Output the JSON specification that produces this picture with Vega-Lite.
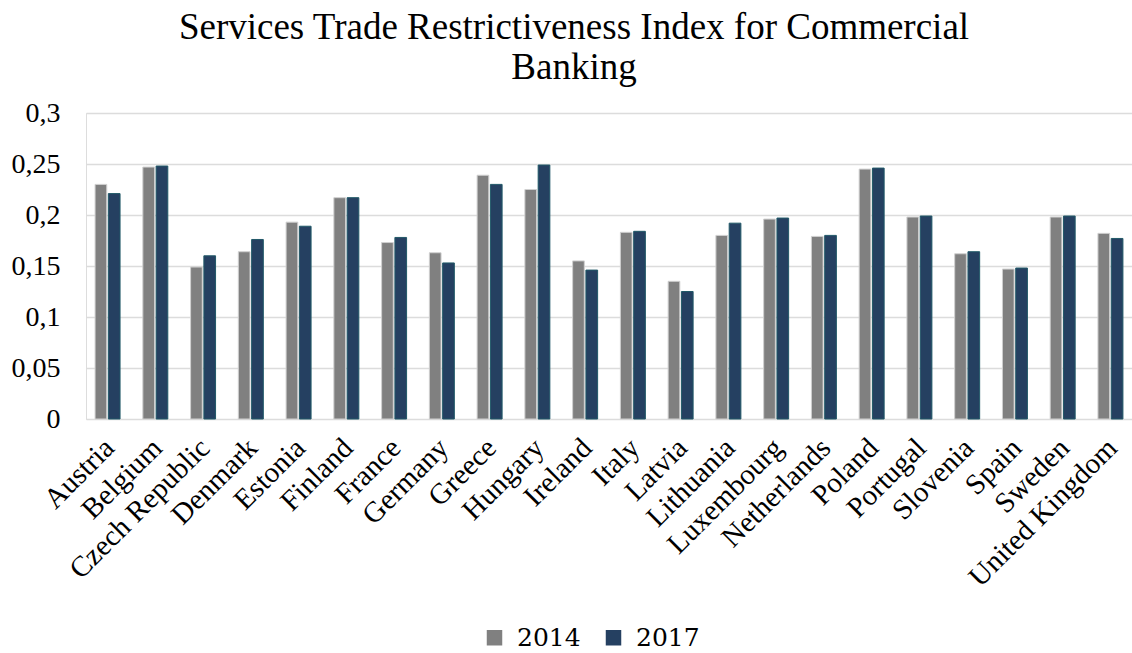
{
  "$schema": "https://vega.github.io/schema/vega-lite/v6.json",
  "autosize": {"type": "none"},
  "width": 1046,
  "height": 306,
  "padding": {"left": 86, "top": 113, "right": 0, "bottom": 234},
  "background": "white",
  "title": {
    "text": ["Services Trade Restrictiveness Index for Commercial", "Banking"],
    "font": "Liberation Serif",
    "fontSize": 37,
    "fontWeight": "normal",
    "color": "#000000",
    "anchor": "middle",
    "lineHeight": 40,
    "offset": 12,
    "dx": -35
  },
  "data": {
    "values": [
      {"country": "Austria", "year": "2014", "value": 0.230},
      {"country": "Austria", "year": "2017", "value": 0.221},
      {"country": "Belgium", "year": "2014", "value": 0.247},
      {"country": "Belgium", "year": "2017", "value": 0.248},
      {"country": "Czech Republic", "year": "2014", "value": 0.149},
      {"country": "Czech Republic", "year": "2017", "value": 0.160},
      {"country": "Denmark", "year": "2014", "value": 0.164},
      {"country": "Denmark", "year": "2017", "value": 0.176},
      {"country": "Estonia", "year": "2014", "value": 0.193},
      {"country": "Estonia", "year": "2017", "value": 0.189},
      {"country": "Finland", "year": "2014", "value": 0.217},
      {"country": "Finland", "year": "2017", "value": 0.217},
      {"country": "France", "year": "2014", "value": 0.173},
      {"country": "France", "year": "2017", "value": 0.178},
      {"country": "Germany", "year": "2014", "value": 0.163},
      {"country": "Germany", "year": "2017", "value": 0.153},
      {"country": "Greece", "year": "2014", "value": 0.239},
      {"country": "Greece", "year": "2017", "value": 0.230},
      {"country": "Hungary", "year": "2014", "value": 0.225},
      {"country": "Hungary", "year": "2017", "value": 0.249},
      {"country": "Ireland", "year": "2014", "value": 0.155},
      {"country": "Ireland", "year": "2017", "value": 0.146},
      {"country": "Italy", "year": "2014", "value": 0.183},
      {"country": "Italy", "year": "2017", "value": 0.184},
      {"country": "Latvia", "year": "2014", "value": 0.135},
      {"country": "Latvia", "year": "2017", "value": 0.125},
      {"country": "Lithuania", "year": "2014", "value": 0.180},
      {"country": "Lithuania", "year": "2017", "value": 0.192},
      {"country": "Luxembourg", "year": "2014", "value": 0.196},
      {"country": "Luxembourg", "year": "2017", "value": 0.197},
      {"country": "Netherlands", "year": "2014", "value": 0.179},
      {"country": "Netherlands", "year": "2017", "value": 0.180},
      {"country": "Poland", "year": "2014", "value": 0.245},
      {"country": "Poland", "year": "2017", "value": 0.246},
      {"country": "Portugal", "year": "2014", "value": 0.198},
      {"country": "Portugal", "year": "2017", "value": 0.199},
      {"country": "Slovenia", "year": "2014", "value": 0.162},
      {"country": "Slovenia", "year": "2017", "value": 0.164},
      {"country": "Spain", "year": "2014", "value": 0.147},
      {"country": "Spain", "year": "2017", "value": 0.148},
      {"country": "Sweden", "year": "2014", "value": 0.198},
      {"country": "Sweden", "year": "2017", "value": 0.199},
      {"country": "United Kingdom", "year": "2014", "value": 0.182},
      {"country": "United Kingdom", "year": "2017", "value": 0.177}
    ]
  },
  "mark": {"type": "bar", "strokeWidth": 1},
  "encoding": {
    "x": {
      "field": "country",
      "type": "nominal",
      "sort": null,
      "title": null,
      "scale": {"paddingInner": 0.477, "paddingOuter": 0.19},
      "axis": {
        "labelAngle": -45,
        "labelFont": "Liberation Serif",
        "labelFontSize": 29,
        "labelColor": "#000000",
        "labelPadding": 14,
        "labelOffset": -8,
        "labelLimit": 400,
        "ticks": false,
        "domain": false,
        "labelOverlap": false
      }
    },
    "xOffset": {"field": "year", "type": "nominal", "scale": {"paddingInner": 0.12}},
    "y": {
      "field": "value",
      "type": "quantitative",
      "title": null,
      "scale": {"domain": [0, 0.3], "nice": false},
      "axis": {
        "values": [0, 0.05, 0.1, 0.15, 0.2, 0.25, 0.3],
        "labelExpr": "replace(toString(datum.value), '.', ',')",
        "labelFont": "Liberation Serif",
        "labelFontSize": 28,
        "labelColor": "#000000",
        "labelPadding": 26,
        "ticks": false,
        "domain": false,
        "grid": true,
        "gridColor": "#dcdcdc",
        "gridWidth": 1.5
      }
    },
    "color": {
      "field": "year",
      "type": "nominal",
      "title": null,
      "scale": {"domain": ["2014", "2017"], "range": ["#808080", "#254061"]},
      "legend": {
        "orient": "none",
        "legendX": 396,
        "legendY": 512,
        "direction": "horizontal",
        "symbolType": "square",
        "symbolSize": 240,
        "symbolStrokeWidth": 0,
        "labelFont": "DejaVu Serif",
        "labelFontSize": 25,
        "labelColor": "#000000",
        "columnPadding": 20,
        "labelOffset": 10
      }
    },
    "stroke": {
      "field": "year",
      "type": "nominal",
      "scale": {"domain": ["2014", "2017"], "range": ["#d0d0d0", "#215968"]},
      "legend": null
    }
  }
}
